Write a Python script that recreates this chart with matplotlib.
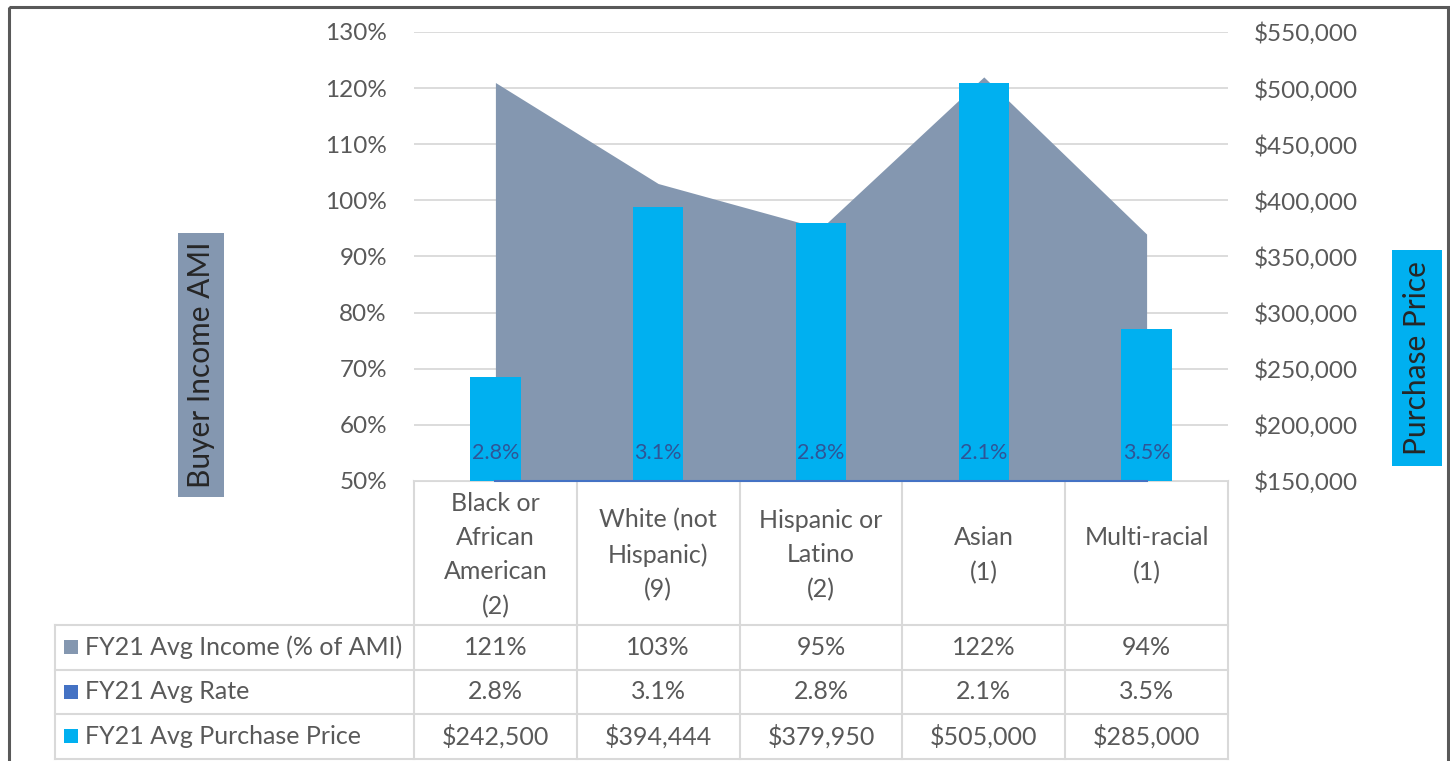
import numpy as np
import matplotlib.pyplot as plt
from matplotlib.patches import Rectangle

plt.rcParams['font.family'] = ['Lato', 'DejaVu Sans']

# data
categories = ["Black or\nAfrican\nAmerican\n(2)", "White (not\nHispanic)\n(9)",
              "Hispanic or\nLatino\n(2)", "Asian\n(1)", "Multi-racial\n(1)"]
income_pct = [121, 103, 95, 122, 94]
avg_rate = [2.8, 3.1, 2.8, 2.1, 3.5]
purchase_price = [242500, 394444, 379950, 505000, 285000]
series_names = ["FY21 Avg Income (% of AMI)", "FY21 Avg Rate", "FY21 Avg Purchase Price"]

pct_ticks = list(range(50, 131, 10))
price_ticks = list(range(150000, 550001, 50000))

AREA = '#8497B0'
BAR = '#00B0F0'
RATE = '#4472C4'
RATE_TXT = '#2F5597'
TXT = '#595959'
GRID = '#D9D9D9'

W, H = 1450, 761
fig = plt.figure(figsize=(W / 100, H / 100), dpi=100)

# overlay in pixel coords for the data table and frame
ov = fig.add_axes([0, 0, 1, 1], zorder=-1)
ov.set_xlim(0, W)
ov.set_ylim(H, 0)
ov.axis('off')

ax = fig.add_axes([414 / W, 1 - 481 / H, (1228 - 414) / W, (481 - 32) / H])
x = np.arange(len(categories))

# area series: income % of AMI
ax.fill_between(x, pct_ticks[0], income_pct, color=AREA, lw=0, zorder=2)
ax.set_xlim(-0.5, len(categories) - 0.5)
ax.set_ylim(pct_ticks[0], pct_ticks[-1])
ax.set_yticks(pct_ticks)
ax.set_yticklabels([f"{v}%" for v in pct_ticks])
ax.grid(axis='y', color=GRID, lw=1.3)
ax.set_axisbelow(True)
ax.set_xticks([])
ax.tick_params(axis='y', length=0, pad=19.5, labelsize=17.5, labelcolor=TXT)
for s in ax.spines.values():
    s.set_visible(False)

# bars: purchase price on the secondary axis
ax2 = ax.twinx()
ax2.bar(x, purchase_price, width=0.31, color=BAR, zorder=3)
ax2.set_ylim(price_ticks[0], price_ticks[-1])
ax2.set_yticks(price_ticks)
ax2.set_yticklabels([f"${v:,}" for v in price_ticks])
ax2.tick_params(axis='y', length=0, pad=18.5, labelsize=17.5, labelcolor=TXT)
for s in ax2.spines.values():
    s.set_visible(False)

# rate series sits below the 50% floor -> only its labels show
ax2.plot([x[0], x[-1]], [price_ticks[0], price_ticks[0]], color=RATE, lw=1.5, zorder=4, clip_on=False)
for i, r in enumerate(avg_rate):
    ax2.annotate(f"{r}%", (i, price_ticks[0]), xytext=(0, 20), textcoords='offset points',
                 ha='center', va='center', fontsize=15.5, color=RATE_TXT, zorder=5,
                 annotation_clip=False)

# axis title boxes
fig.text(201 / W, 1 - 365 / H, "Buyer Income AMI", rotation=90, ha='center', va='center',
         fontsize=21.5, color='#262626',
         bbox=dict(boxstyle='square,pad=0.3', fc=AREA, ec='none'))
fig.text(1417 / W, 1 - 358 / H, "Purchase Price", rotation=90, ha='center', va='center',
         fontsize=21.5, color='#262626',
         bbox=dict(boxstyle='square,pad=0.36', fc=BAR, ec='none'))

# data table
edges = [ax.transData.transform((e, 0))[0] for e in np.arange(-0.5, len(categories), 1)]
centers = [ax.transData.transform((i, 0))[0] for i in x]
tab_left = 55
row_y = [481, 625, 669.5, 714, 758.5]
lc = dict(color=GRID, lw=1.5)

ov.plot([edges[0], edges[-1]], [row_y[0], row_y[0]], **lc)
for y in row_y[1:]:
    ov.plot([tab_left, edges[-1]], [y, y], **lc)
for e in edges:
    ov.plot([e, e], [row_y[0], row_y[-1]], **lc)
ov.plot([tab_left, tab_left], [row_y[1], row_y[-1]], **lc)

for c, name in zip(centers, categories):
    ov.text(c, (row_y[0] + row_y[1]) / 2 + 2, name, ha='center', va='center',
            fontsize=18, color=TXT, linespacing=1.6)

rows = [[f"{v}%" for v in income_pct],
        [f"{v}%" for v in avg_rate],
        [f"${v:,}" for v in purchase_price]]
swatch = [AREA, RATE, BAR]
for k in range(3):
    yc = (row_y[k + 1] + row_y[k + 2]) / 2
    ov.add_patch(Rectangle((64, yc - 7), 14, 14, fc=swatch[k], ec='none'))
    ov.text(85, yc, series_names[k], ha='left', va='center', fontsize=18, color=TXT)
    for c, val in zip(centers, rows[k]):
        ov.text(c, yc, val, ha='center', va='center', fontsize=18, color=TXT)

# outer frame
ov.add_patch(Rectangle((9, 7), 1439, 770, fill=False, ec='#595959', lw=2.2))

fig.savefig("out.png", dpi=100)
